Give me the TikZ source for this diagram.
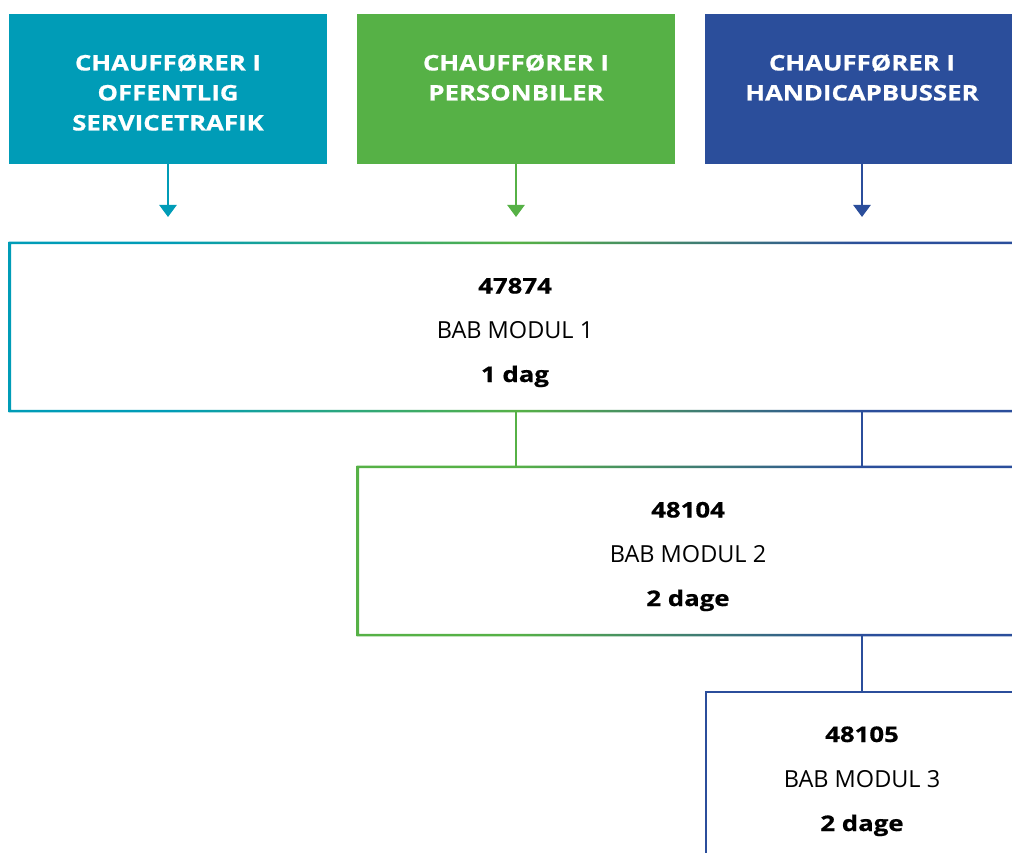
\documentclass[tikz,border=0pt]{standalone}
\usepackage{fontspec}
\setmainfont{Open Sans}
\newfontfamily\hbf[FakeStretch=1.2,FakeBold=0.6]{Open Sans Bold}
\newfontfamily\hlt{Open Sans}
\usetikzlibrary{arrows.meta}
\definecolor{cteal}{HTML}{009CB7}
\definecolor{cgreen}{HTML}{56B146}
\definecolor{cblue}{HTML}{2B4E9B}
\pgfdeclarehorizontalshading{gradA}{100bp}{color(0bp)=(cteal); color(32.9bp)=(cteal); color(50.1bp)=(cgreen); color(67.2bp)=(cblue); color(100bp)=(cblue)}
\pgfdeclarehorizontalshading{gradB}{100bp}{color(0bp)=(cgreen); color(36.9bp)=(cgreen); color(63.1bp)=(cblue); color(100bp)=(cblue)}
\tikzset{
  topbox/.style={minimum width=318pt, minimum height=150pt, inner sep=0pt, draw=none},
  modbox/.style={minimum height=168pt, inner sep=0pt, draw=none},
  toptxt/.style={font=\hbf\fontsize{21.5}{25}\selectfont, text=white, anchor=base, inner sep=0pt},
  numtxt/.style={font=\hbf\fontsize{21.5}{25}\selectfont, text=black, anchor=base, inner sep=0pt},
  modtxt/.style={font=\hlt\fontsize{23.5}{28}\selectfont, text=black, anchor=base, inner sep=0pt},
  arr/.style={line width=2.5pt, -{Triangle[width=17pt,length=12pt]}},
  conn/.style={line width=2.5pt},
}
\begin{document}
\begin{tikzpicture}[x=1pt,y=-1pt]
\useasboundingbox (0,0) rectangle (1012,853);
% top boxes
\node[topbox, fill=cteal] (t1) at (168,89) {};
\node[topbox, fill=cgreen] (t2) at (516,89) {};
\node[topbox, fill=cblue] (t3) at (864,89) {};
\node[toptxt] (t1a) at (168,70.5) {CHAUFFØRER I};
\node[toptxt] (t1b) at (168,100.5) {OFFENTLIG};
\node[toptxt] (t1c) at (168,130.5) {SERVICETRAFIK};
\node[toptxt] (t2a) at (516,70.5) {CHAUFFØRER I};
\node[toptxt] (t2b) at (516,100.5) {PERSONBILER};
\node[toptxt] (t3a) at (862,70.5) {CHAUFFØRER I};
\node[toptxt] (t3b) at (862,100.5) {HANDICAPBUSSER};
% arrows
\coordinate (a1) at (168,217);
\coordinate (a2) at (516,217);
\coordinate (a3) at (862,217);
\draw[arr, cteal] (t1.south -| a1) -- (a1);
\draw[arr, cgreen] (t2.south -| a2) -- (a2);
\draw[arr, cblue] (t3.south -| a3) -- (a3);
% module boxes
\node[modbox, minimum width=1010pt] (b1) at (515,327) {};
\node[modbox, minimum width=660pt] (b2) at (688,551) {};
\node[modbox, minimum width=312pt] (b3) at (862,776) {};
\shade[shading=gradA, even odd rule]
  ([shift={(-1.25,-1.25)}]b1.north west) rectangle ([shift={(1.25,1.25)}]b1.south east)
  ([shift={(1.25,1.25)}]b1.north west) rectangle ([shift={(-1.25,-1.25)}]b1.south east);
\shade[shading=gradB, even odd rule]
  ([shift={(-1.25,-1.25)}]b2.north west) rectangle ([shift={(1.25,1.25)}]b2.south east)
  ([shift={(1.25,1.25)}]b2.north west) rectangle ([shift={(-1.25,-1.25)}]b2.south east);
\draw[conn, cblue] (b3.north west) rectangle (b3.south east);
% connectors
\draw[conn, cgreen] (b1.south -| a2) -- (b2.north -| a2);
\draw[conn, cblue] (b1.south -| a3) -- (b2.north -| a3);
\draw[conn, cblue] (b2.south -| a3) -- (b3.north -| a3);
% texts
\node[numtxt] (n1) at (515,293.5) {47874};
\node[modtxt] (m1) at (515,338) {BAB MODUL 1};
\node[numtxt] (d1) at (515,382) {1 dag};
\node[numtxt] (n2) at (688,517.5) {48104};
\node[modtxt] (m2) at (688,562) {BAB MODUL 2};
\node[numtxt] (d2) at (688,606) {2 dage};
\node[numtxt] (n3) at (862,742) {48105};
\node[modtxt] (m3) at (862,787) {BAB MODUL 3};
\node[numtxt] (d3) at (862,831) {2 dage};
\end{tikzpicture}
\end{document}
